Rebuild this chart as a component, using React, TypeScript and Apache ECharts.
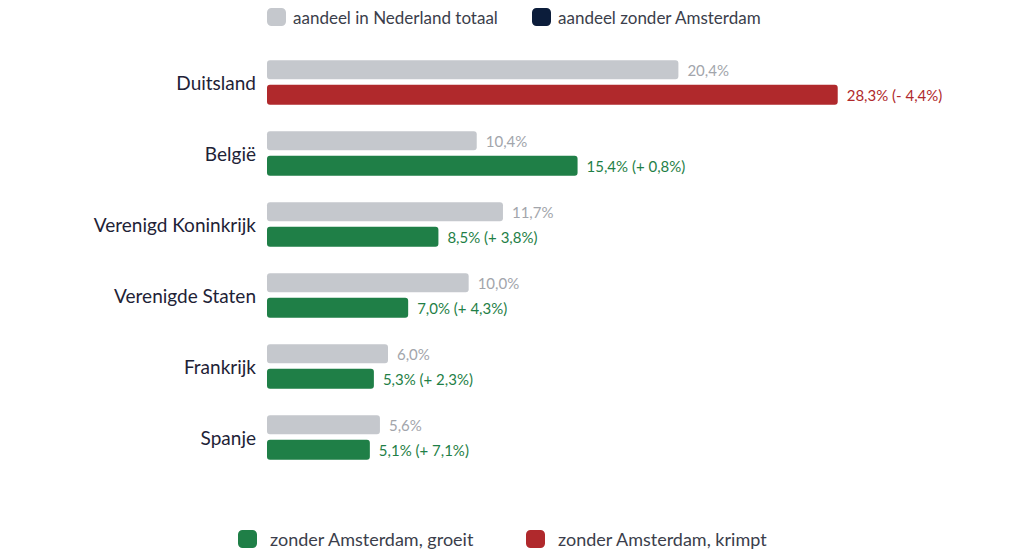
import React, { useEffect, useRef } from 'react';
import * as echarts from 'echarts';

const countries = ['Duitsland', 'België', 'Verenigd Koninkrijk', 'Verenigde Staten', 'Frankrijk', 'Spanje'];
const shareTotal = [20.4, 10.4, 11.7, 10.0, 6.0, 5.6];
const shareWithoutAmsterdam = [28.3, 15.4, 8.5, 7.0, 5.3, 5.1];
const changeWithoutAmsterdam = [-4.4, 0.8, 3.8, 4.3, 2.3, 7.1];

const GRAY = '#c5c8cd';
const NAVY = '#0c1d3b';
const GREEN = '#1f7f47';
const RED = '#b0292c';
const FONT = 'Lato, "Noto Sans", sans-serif';

const fmt = (v: number) => v.toFixed(1).replace('.', ',');

const App: React.FC = () => {
  const chartRef = useRef<HTMLDivElement>(null);

  useEffect(() => {
    if (!chartRef.current) return;
    const chart = echarts.init(chartRef.current, undefined, { renderer: 'svg' });

    const legendBase = {
      icon: 'roundRect',
      itemWidth: 19,
      itemHeight: 18,
      itemGap: 0,
      padding: 0,
      selectedMode: false,
      orient: 'horizontal' as const,
    };

    chart.setOption({
      animation: false,
      textStyle: { fontFamily: FONT },
      legend: [
        { ...legendBase, left: 267, top: 8, data: [{ name: 'aandeel in Nederland totaal', itemStyle: { color: GRAY } }], textStyle: { fontSize: 17, color: '#3b3e4b', fontFamily: FONT, padding: [0, 0, 0, 2] } },
        { ...legendBase, left: 532, top: 8, data: [{ name: 'aandeel zonder Amsterdam', itemStyle: { color: NAVY } }], textStyle: { fontSize: 17, color: '#3b3e4b', fontFamily: FONT, padding: [0, 0, 0, 2] } },
        { ...legendBase, left: 238, top: 530, data: [{ name: 'zonder Amsterdam, groeit', itemStyle: { color: GREEN } }], textStyle: { fontSize: 18, color: '#3b3e4b', fontFamily: FONT, padding: [0, 0, 0, 8] } },
        { ...legendBase, left: 526, top: 530, data: [{ name: 'zonder Amsterdam, krimpt', itemStyle: { color: RED } }], textStyle: { fontSize: 18, color: '#3b3e4b', fontFamily: FONT, padding: [0, 0, 0, 8] } },
      ],
      grid: { left: 267, top: 47, width: 605, height: 426 },
      xAxis: {
        type: 'value',
        min: 0,
        max: 30,
        show: false,
      },
      yAxis: {
        type: 'category',
        data: countries,
        inverse: true,
        axisLine: { show: false },
        axisTick: { show: false },
        axisLabel: { fontSize: 19, color: '#1e2236', margin: 11, fontFamily: FONT },
      },
      series: [
        {
          name: 'aandeel in Nederland totaal',
          type: 'bar',
          barWidth: 19,
          barGap: '30%',
          data: shareTotal,
          itemStyle: { color: GRAY, borderRadius: 3 },
          label: {
            show: true,
            position: 'right',
            distance: 9,
            fontSize: 15,
            color: '#a2a5ab',
            fontFamily: FONT,
            formatter: (p: any) => `${fmt(p.value)}%`,
          },
        },
        {
          name: 'aandeel zonder Amsterdam',
          type: 'bar',
          barWidth: 20,
          barGap: '30%',
          data: shareWithoutAmsterdam.map((v, i) => ({
            value: v,
            itemStyle: { color: changeWithoutAmsterdam[i] < 0 ? RED : GREEN },
            label: { color: changeWithoutAmsterdam[i] < 0 ? RED : GREEN },
          })),
          itemStyle: { color: NAVY, borderRadius: 3 },
          label: {
            show: true,
            position: 'right',
            distance: 9,
            fontSize: 15,
            fontFamily: FONT,
            formatter: (p: any) => {
              const c = changeWithoutAmsterdam[p.dataIndex];
              return `${fmt(p.value)}% (${c < 0 ? '-' : '+'} ${fmt(Math.abs(c))}%)`;
            },
          },
        },
        {
          name: 'zonder Amsterdam, groeit',
          type: 'line',
          data: [],
          itemStyle: { color: GREEN },
          lineStyle: { color: GREEN },
        },
        {
          name: 'zonder Amsterdam, krimpt',
          type: 'line',
          data: [],
          itemStyle: { color: RED },
          lineStyle: { color: RED },
        },
      ],
    });

    return () => {
      chart.dispose();
    };
  }, []);

  return (
    <div
      ref={chartRef}
      style={{ position: 'absolute', left: 0, top: 0, width: 1024, height: 560, background: '#ffffff' }}
    />
  );
};

export default App;
